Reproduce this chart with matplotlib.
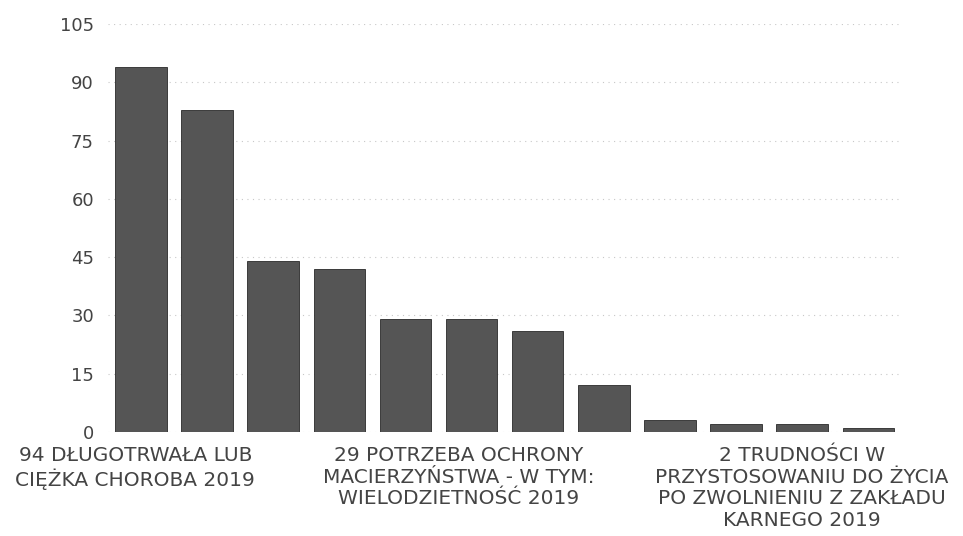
import numpy as np
import matplotlib.pyplot as plt
from matplotlib.transforms import ScaledTranslation

# values (12 categories, only every 5th labelled)
values = [94, 83, 44, 42, 29, 29, 26, 12, 3, 2, 2, 1]
labels = [
    "94 DŁUGOTRWAŁA LUB\nCIĘŻKA CHOROBA 2019", "", "", "", "",
    "29 POTRZEBA OCHRONY\nMACIERZYŃSTWA - W TYM:\nWIELODZIETNOŚĆ 2019", "", "", "", "",
    "2 TRUDNOŚCI W\nPRZYSTOSOWANIU DO ŻYCIA\nPO ZWOLNIENIU Z ZAKŁADU\nKARNEGO 2019", "",
]
yticks = [0, 15, 30, 45, 60, 75, 90, 105]

plt.rcParams['font.family'] = ['DejaVu Sans']

fig = plt.figure(figsize=(9.63, 5.36), dpi=100)
ax = fig.add_axes([0.112, 0.194, 0.824, 0.761])

x = np.arange(len(values))
ax.bar(x, values, width=0.78, color='#555555', edgecolor='#2a2a2a', linewidth=0.6, zorder=2)

ax.set_ylim(0, 105)
ax.set_xlim(-0.5, len(values) - 0.5)
ax.set_yticks(yticks)
ax.set_yticklabels([str(v) for v in yticks], fontsize=13, color='#444444')
ax.set_xticks(x)
ax.set_xticklabels(labels, fontsize=14.5, color='#444444', linespacing=1.18)
ax.tick_params(length=0, pad=10)
ax.tick_params(axis='x', pad=10)

# small horizontal nudges of the category labels
shifts = {0: -4, 5: -9, 10: 0}
for i, lab in enumerate(ax.get_xticklabels()):
    if i in shifts:
        lab.set_transform(lab.get_transform() + ScaledTranslation(shifts[i] / 72, 0, fig.dpi_scale_trans))

ax.yaxis.grid(True, linestyle=(0, (1, 4)), color='#c8c8c8', linewidth=0.8, zorder=0)
for s in ax.spines.values():
    s.set_visible(False)

plt.savefig('out.png', dpi=100)
